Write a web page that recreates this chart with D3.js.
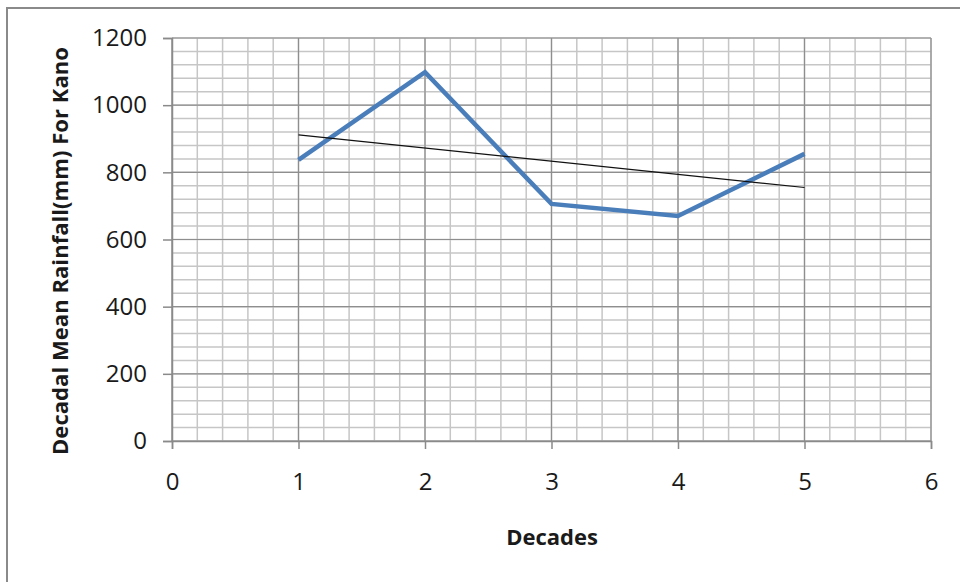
<!DOCTYPE html>
<html>
<head>
<meta charset="utf-8">
<script src="https://cdn.jsdelivr.net/npm/d3@7"></script>
<style>
  html, body { margin: 0; padding: 0; background: #fff; }
  svg { display: block; }
  text { font-family: "Open Sans", "DejaVu Sans", sans-serif; fill: #1a1a1a; }
</style>
</head>
<body>
<svg id="chart" width="960" height="582"></svg>
<script>
// Decadal mean rainfall for Kano (mm)
const decades = [1, 2, 3, 4, 5];
const rainfall = [837, 1098, 706, 670, 855];
const xTicks = [0, 1, 2, 3, 4, 5, 6];
const yTicks = [0, 200, 400, 600, 800, 1000, 1200];
const xTitle = "Decades";
const yTitle = "Decadal Mean Rainfall(mm) For Kano";

const svg = d3.select("#chart");
const plot = { left: 172, right: 931, top: 38, bottom: 441 };

const x = d3.scaleLinear().domain([0, 6]).range([plot.left, plot.right]);
const y = d3.scaleLinear().domain([0, 1200]).range([plot.bottom, plot.top]);

// outer chart frame
svg.append("rect")
  .attr("x", 7).attr("y", 8)
  .attr("width", 980).attr("height", 600)
  .attr("fill", "#fff")
  .attr("stroke", "#8a8a8a").attr("stroke-width", 2);

// minor gridlines
const g = svg.append("g");
const xMinor = d3.range(0, 6.0001, 0.2).map(v => +v.toFixed(1));
const yMinor = d3.range(0, 1200.001, 40);
g.selectAll(".xminor").data(xMinor).join("line")
  .attr("x1", d => x(d)).attr("x2", d => x(d))
  .attr("y1", plot.top).attr("y2", plot.bottom)
  .attr("stroke", "#c6c6c6").attr("stroke-width", 1.5);
g.selectAll(".yminor").data(yMinor).join("line")
  .attr("x1", plot.left).attr("x2", plot.right)
  .attr("y1", d => y(d)).attr("y2", d => y(d))
  .attr("stroke", "#c6c6c6").attr("stroke-width", 1.5);

// major gridlines
g.selectAll(".xmajor").data(xTicks).join("line")
  .attr("x1", d => x(d)).attr("x2", d => x(d))
  .attr("y1", plot.top).attr("y2", plot.bottom)
  .attr("stroke", "#8e8e8e").attr("stroke-width", 1.2);
g.selectAll(".ymajor").data(yTicks).join("line")
  .attr("x1", plot.left).attr("x2", plot.right)
  .attr("y1", d => y(d)).attr("y2", d => y(d))
  .attr("stroke", "#8e8e8e").attr("stroke-width", 1.2);

// axes
const yAxis = d3.axisLeft(y).tickValues(yTicks).tickSize(9).tickPadding(16).tickFormat(d3.format("d"));
const xAxis = d3.axisBottom(x).tickValues(xTicks).tickSize(8).tickPadding(24).tickFormat(d3.format("d"));

const ya = svg.append("g").attr("transform", `translate(${plot.left},0)`).call(yAxis);
const xa = svg.append("g").attr("transform", `translate(0,${plot.bottom})`).call(xAxis);
[ya, xa].forEach(a => {
  a.select(".domain").attr("stroke", "#8a8a8a").attr("stroke-width", 1.5);
  a.selectAll(".tick line").attr("stroke", "#8a8a8a").attr("stroke-width", 1.5);
  a.selectAll(".tick text").attr("font-size", 24).attr("fill", "#1a1a1a")
    .style("font-family", "'Open Sans', 'DejaVu Sans', sans-serif");
});

// rainfall series
const line = d3.line().x((d, i) => x(decades[i])).y(d => y(d));
svg.append("path")
  .datum(rainfall)
  .attr("d", line)
  .attr("fill", "none")
  .attr("stroke", "#4a7ebb")
  .attr("stroke-width", 4.5)
  .attr("stroke-linejoin", "miter");

// linear trendline (least squares fit of the series)
const mx = d3.mean(decades), my = d3.mean(rainfall);
const slope = d3.sum(decades, (d, i) => (d - mx) * (rainfall[i] - my)) /
              d3.sum(decades, d => (d - mx) * (d - mx));
const icept = my - slope * mx;
const xs = d3.extent(decades);
svg.append("line")
  .attr("x1", x(xs[0])).attr("y1", y(icept + slope * xs[0]))
  .attr("x2", x(xs[1])).attr("y2", y(icept + slope * xs[1]))
  .attr("stroke", "#111").attr("stroke-width", 1.2);

// axis titles
svg.append("text")
  .attr("x", 552).attr("y", 545)
  .attr("text-anchor", "middle")
  .attr("font-size", 22).attr("font-weight", "bold")
  .text(xTitle);

svg.append("text")
  .attr("transform", "translate(68,251) rotate(-90)")
  .attr("text-anchor", "middle")
  .attr("font-size", 22).attr("font-weight", "bold")
  .attr("textLength", 408).attr("lengthAdjust", "spacing")
  .text(yTitle);
</script>
</body>
</html>
